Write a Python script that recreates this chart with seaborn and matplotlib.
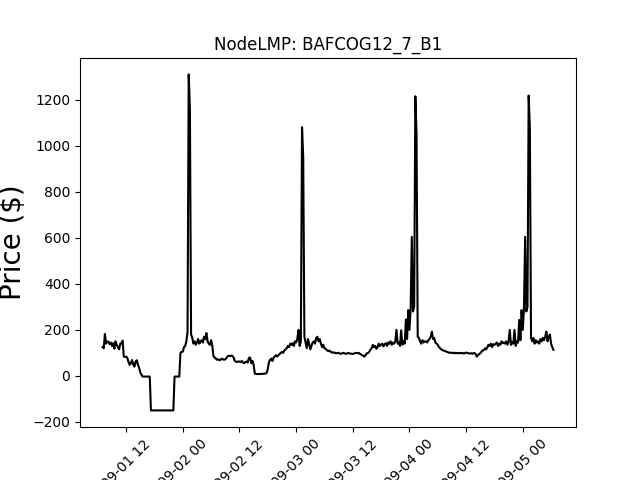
import matplotlib
matplotlib.use('Agg')
import matplotlib.pyplot as plt
import pandas as pd
import seaborn as sns

# real-time LMP at one node, 15 minute intervals
node_name = 'BAFCOG12_7_B1'
start_time = '2022-09-01 07:00'
interval = '15min'

# 09-01 07:00 .. 23:45
price_0901 = [
    125, 120, 182, 140,   150, 148, 138, 145,   130, 142, 118, 150,
    135, 125, 115, 140,   140, 153, 84, 82,     84, 78, 60, 48,
    55, 69, 50, 40,       62, 68, 48, 35,       15, 5, -3, -3,
    -3, -3, -3, -3,       -3, -150, -150, -150, -150, -150, -150, -150,
    -150, -150, -150, -150, -150, -150, -150, -150, -150, -150, -150, -150,
    -150, -3, -3, -3,     -3, -3, 100, 105,
]

# 09-02 00:00 .. 23:45
price_0902 = [
    105, 125, 130, 150,   190, 1310, 1160, 180, 165, 140, 150, 135,
    145, 160, 140, 150,   155, 145, 170, 160,   186, 150, 140, 135,
    155, 130, 84, 80,     75, 70, 72, 68,       70, 75, 72, 70,
    72, 78, 85, 88,       86, 88, 87, 80,       65, 62, 60, 63,
    62, 60, 65, 58,       55, 60, 62, 58,       78, 80, 55, 65,
    48, 10, 8, 8,         8, 8, 9, 8,           9, 10, 10, 12,
    30, 60, 70, 75,       65, 80, 85, 90,       84, 90, 95, 100,
    104, 100, 110, 115,   120, 130, 125, 140,   135, 142, 130, 150,
]

# 09-03 00:00 .. 23:45
price_0903 = [
    145, 160, 200, 130,   150, 1080, 950, 170,  145, 120, 160, 140,
    115, 130, 145, 150,   140, 165, 170, 150,   160, 140, 125, 135,
    120, 118, 112, 108,   110, 105, 104, 100,   102, 100, 98, 100,
    100, 97, 96, 98,      100, 98, 96, 97,      100, 98, 97, 96,
    95, 97, 99, 100,      98, 100, 96, 93,      90, 86, 84, 92,
    98, 100, 105, 115,    120, 135, 125, 130,   118, 125, 140, 130,
    135, 140, 128, 138,   142, 130, 145, 140,   150, 135, 145, 140,
    150, 200, 140, 145,   130, 198, 135, 150,   140, 245, 160, 286,
]

# 09-04 00:00 .. 23:45
price_0904 = [
    200, 290, 604, 280,   300, 1215, 1050, 170, 165, 150, 140, 155,
    145, 150, 150, 145,   155, 160, 170, 192,   160, 165, 145, 140,
    135, 125, 120, 115,   112, 110, 108, 106,   104, 102, 100, 101,
    100, 99, 101, 98,     100, 98, 99, 100,     98, 100, 97, 99,
    101, 100, 98, 97,     99, 96, 98, 100,      95, 84, 90, 95,
    98, 105, 110, 112,    120, 115, 125, 135,   130, 140, 125, 138,
    135, 140, 145, 130,   140, 135, 150, 142,   145, 140, 150, 135,
    150, 200, 135, 145,   140, 200, 130, 150,   145, 243, 155, 286,
]

# 09-05 00:00 .. 06:30
price_0905 = [
    200, 290, 604, 280,   300, 1218, 1080, 165, 150, 165, 140, 155,
    145, 150, 140, 160,   150, 165, 155, 170,   192, 150, 170, 180,
    140, 125, 113,
]

prices = price_0901 + price_0902 + price_0903 + price_0904 + price_0905
times = pd.date_range(start_time, periods=len(prices), freq=interval)

fig, ax = plt.subplots(figsize=(6.4, 4.8), dpi=100)
sns.lineplot(x=times, y=prices, color='black', linewidth=1.5, ax=ax)
ax.set_title(f'NodeLMP: {node_name}')
ax.set_ylabel('Price ($)', fontsize=20)
plt.xticks(rotation=45)
fig.savefig('out.png', dpi=100)
